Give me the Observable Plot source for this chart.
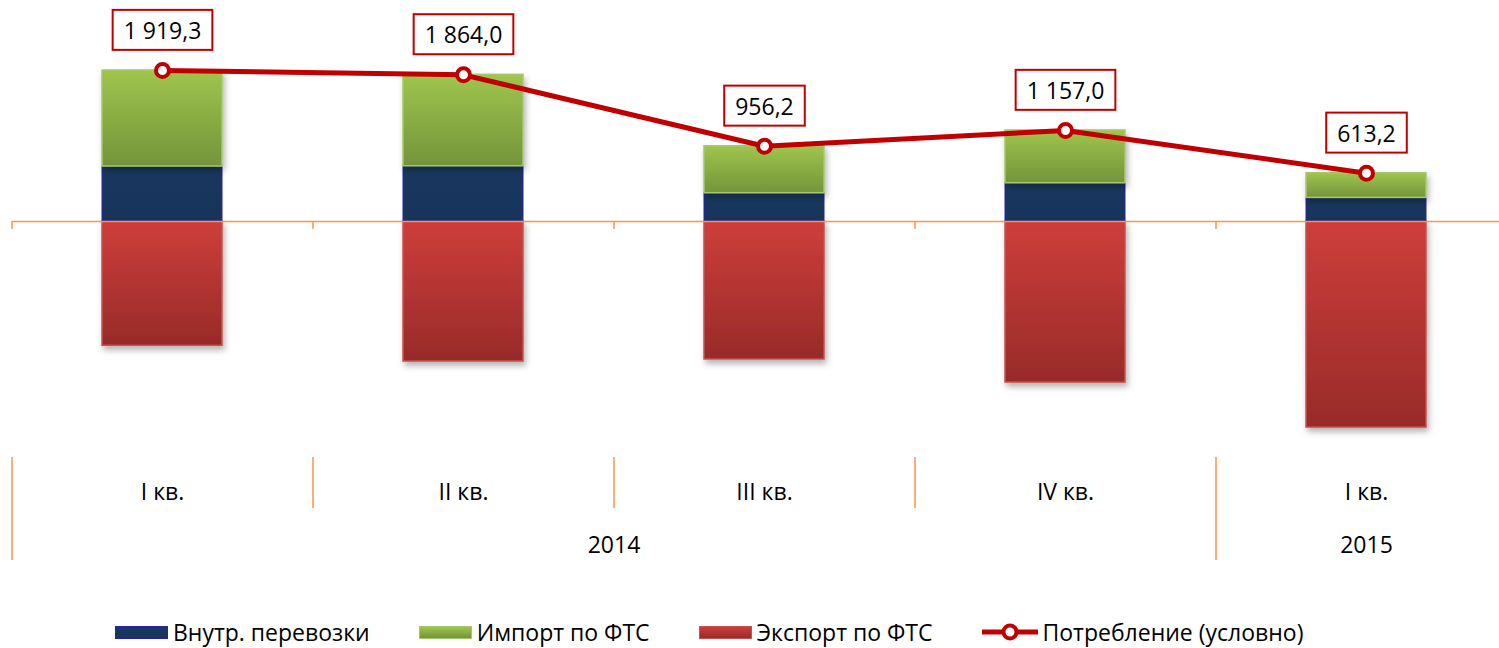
<!DOCTYPE html>
<html><head><meta charset="utf-8">
<script src="https://cdn.jsdelivr.net/npm/d3@7"></script>
<script src="https://cdn.jsdelivr.net/npm/@observablehq/plot@0.6"></script>
<style>
body{margin:0;background:#fff;font-family:"Open Sans",sans-serif;}
#chart{position:relative;width:1499px;height:648px;overflow:hidden;}
#chart svg{display:block;}
#legend{position:absolute;left:115px;top:616px;height:32px;display:flex;align-items:center;font-size:23px;color:#000;white-space:nowrap;}
.item{display:flex;align-items:center;margin-right:49px;}
.sw{width:53px;height:13px;margin-right:5px;box-sizing:border-box;}
.ln{width:56px;height:20px;margin-right:5px;}
</style></head><body><div id="chart"><div id="legend"></div></div><script>
// ---- data ----
const categories = ["I кв. 2014", "II кв. 2014", "III кв. 2014", "IV кв. 2014", "I кв. 2015"];
const quarterLabels = ["I кв.", "II кв.", "III кв.", "IV кв.", "I кв."];
const years = ["2014", "2014", "2014", "2014", "2015"];
const innerTransport = [699, 703, 360, 487, 301];
const importFTS = [1220.3, 1161.0, 596.2, 670.0, 312.2];
const exportFTS = [1580, 1780, 1754, 2047, 2619];
const consumption = [1919.3, 1864.0, 956.2, 1157.0, 613.2];
const seriesNames = ["Внутр. перевозки", "Импорт по ФТС", "Экспорт по ФТС", "Потребление (условно)"];

// ---- layout ----
const W = 1499, H = 605;
const xRange = [12, 1517];
const step = (xRange[1] - xRange[0]) / categories.length;
const zeroPx = 221, k = 0.07867;
const yDomain = [-3000, 2800];
const yRange = [zeroPx - yDomain[0] * k, zeroPx - yDomain[1] * k];
const py = px => (zeroPx - px) / k;  // pixel row -> data value for decorations
const RED = "#C00000", ORANGE = "#F79646";

const fmt = d3.formatLocale({decimal: ",", thousands: " ", grouping: [3]}).format(",.1f");

const rows = categories.map((c, i) => ({
  c, q: quarterLabels[i], year: years[i],
  inner: innerTransport[i], imp: importFTS[i], exp: exportFTS[i], cons: consumption[i]
}));
const yearGroups = [];
rows.forEach((r) => {
  const g = yearGroups[yearGroups.length - 1];
  if (!g || g.year !== r.year) yearGroups.push({year: r.year, c: r.c, n: 1});
  else g.n++;
});

function defs() {
  const ns = "http://www.w3.org/2000/svg";
  const d = document.createElementNS(ns, "defs");
  d.innerHTML = `
    <linearGradient id="gGreen" x1="0" y1="0" x2="0" y2="1"><stop offset="0" stop-color="#9FC54D"/><stop offset="1" stop-color="#74943A"/></linearGradient>
    <linearGradient id="gRed" x1="0" y1="0" x2="0" y2="1"><stop offset="0" stop-color="#CE3E3B"/><stop offset="1" stop-color="#982B29"/></linearGradient>
    <linearGradient id="gNavy" x1="0" y1="0" x2="0" y2="1"><stop offset="0" stop-color="#19385F"/><stop offset="1" stop-color="#17355B"/></linearGradient>
    <filter id="shadow" x="-20%" y="-20%" width="140%" height="140%"><feDropShadow dx="2" dy="4" stdDeviation="3" flood-color="#000" flood-opacity="0.3"/></filter>`;
  return d;
}

const chart = Plot.plot({
  width: W, height: H,
  marginLeft: 12, marginRight: 0, marginTop: 0, marginBottom: 0,
  style: {fontFamily: "'Open Sans', sans-serif", fontSize: "23px", color: "#000", background: "transparent"},
  x: {domain: categories, range: xRange, paddingInner: 0.6, paddingOuter: 0.3, axis: null},
  y: {domain: yDomain, range: yRange, axis: null},
  marks: [
    defs,
    Plot.barY(rows, {x: "c", y1: 0, y2: d => -d.exp, fill: "url(#gRed)", stroke: "#C8514E", strokeWidth: 1.5, ariaDescription: "bars-export"}),
    Plot.barY(rows, {x: "c", y1: 0, y2: "inner", fill: "url(#gNavy)", stroke: "#2A1FB0", strokeWidth: 1, ariaDescription: "bars-inner"}),
    Plot.barY(rows, {x: "c", y1: "inner", y2: d => d.inner + d.imp, fill: "url(#gGreen)", stroke: "#A6C86A", strokeWidth: 1.5, ariaDescription: "bars-import"}),
    Plot.ruleY([0], {stroke: ORANGE, strokeWidth: 1.5}),
    Plot.ruleX(rows, {x: "c", dx: -step / 2, y1: 0, y2: py(229), stroke: ORANGE, strokeWidth: 1.5}),
    Plot.ruleX(rows, {x: "c", dx: -step / 2, y1: py(457), y2: py(508), stroke: ORANGE, strokeWidth: 1.5}),
    Plot.ruleX(yearGroups, {x: "c", dx: -step / 2, y1: py(508), y2: py(560), stroke: ORANGE, strokeWidth: 1.5}),
    Plot.text(rows, {x: "c", y: py(492), text: "q", fontSize: 23}),
    Plot.text(yearGroups, {x: "c", y: py(545), text: "year", fontSize: 23, ariaDescription: "year-labels"}),
    Plot.line(rows, {x: "c", y: "cons", stroke: RED, strokeWidth: 5}),
    Plot.dot(rows, {x: "c", y: "cons", r: 6.5, fill: "white", stroke: RED, strokeWidth: 4}),
    Plot.text(rows, {x: "c", y: "cons", text: d => fmt(d.cons), dy: -39, fontSize: 23, ariaDescription: "value-labels"})
  ]
});
const host = document.getElementById("chart");
host.insertBefore(chart, host.firstChild);

// shadows on bars
["bars-export", "bars-import"].forEach(l => {
  const g = chart.querySelector(`g[aria-description="${l}"]`);
  if (g) g.setAttribute("filter", "url(#shadow)");
});
// shift year labels to the middle of their group
chart.querySelectorAll('g[aria-description="year-labels"] text').forEach((t, i) => {
  const off = (yearGroups[i].n - 1) / 2 * step;
  const tr = t.getAttribute("transform");
  const m = /translate\(([-\d.e]+),\s*([-\d.e]+)\)/.exec(tr || "");
  if (m) t.setAttribute("transform", `translate(${+m[1] + off},${m[2]})`);
  else t.setAttribute("x", (+(t.getAttribute("x") || 0) + off));
});
// boxes behind value labels
chart.querySelectorAll('g[aria-description="value-labels"] text').forEach(t => {
  const bb = t.getBBox();
  const r = document.createElementNS("http://www.w3.org/2000/svg", "rect");
  const cy = bb.y + bb.height / 2;
  r.setAttribute("x", bb.x - 11); r.setAttribute("y", cy - 20);
  r.setAttribute("width", bb.width + 22); r.setAttribute("height", 40);
  r.setAttribute("fill", "white"); r.setAttribute("stroke", RED); r.setAttribute("stroke-width", 2);
  if (t.getAttribute("transform")) r.setAttribute("transform", t.getAttribute("transform"));
  t.parentNode.insertBefore(r, t);
});

// legend
const legend = document.getElementById("legend");
const swatches = [
  {bg: "linear-gradient(#19385F,#17355B)", border: "1px solid #2A1FB0"},
  {bg: "linear-gradient(#9FC54D,#74943A)", border: "1px solid #A6C86A"},
  {bg: "linear-gradient(#CE3E3B,#982B29)", border: "1px solid #C8514E"}
];
seriesNames.forEach((name, i) => {
  const it = document.createElement("div");
  it.className = "item";
  if (i < 3) {
    const s = document.createElement("div");
    s.className = "sw"; s.style.background = swatches[i].bg; s.style.border = swatches[i].border;
    it.appendChild(s);
  } else {
    it.insertAdjacentHTML("beforeend", `<svg class="ln" viewBox="0 0 56 20"><line x1="0" y1="10" x2="56" y2="10" stroke="${RED}" stroke-width="5"/><circle cx="28" cy="10" r="6.5" fill="white" stroke="${RED}" stroke-width="4"/></svg>`);
  }
  const sp = document.createElement("span"); sp.textContent = name;
  it.appendChild(sp);
  legend.appendChild(it);
});
</script></body></html>
